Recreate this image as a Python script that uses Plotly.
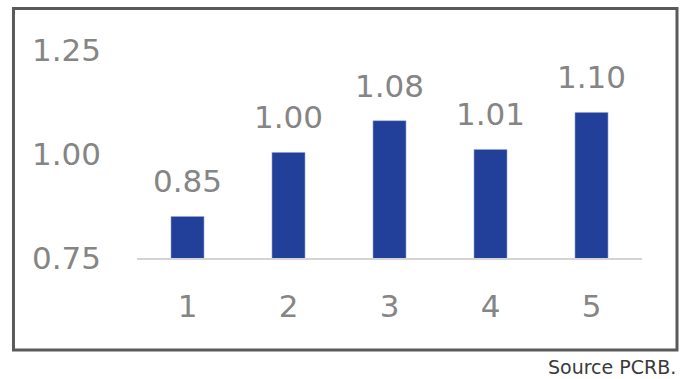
import plotly.graph_objects as go

categories = ["1", "2", "3", "4", "5"]
values = [0.85, 1.004, 1.08, 1.011, 1.10]
value_labels = ["0.85", "1.00", "1.08", "1.01", "1.10"]
y_ticks = [0.75, 1.00, 1.25]
y_tick_labels = ["0.75", "1.00", "1.25"]
source_text = "Source PCRB."

FONT = "DejaVu Sans"
GRAY = "#858585"
BLUE = "#22409A"

fig = go.Figure()
fig.add_trace(go.Bar(
    x=categories, y=values, marker_color=BLUE, width=0.33,
    hoverinfo="skip",
))

for i, (v, t) in enumerate(zip(values, value_labels)):
    fig.add_annotation(x=i, y=v, text=t, showarrow=False, xanchor="center",
                       yanchor="bottom", yshift=15,
                       font=dict(family=FONT, size=31, color=GRAY))

fig.add_annotation(xref="paper", yref="paper", x=1.0713, y=-0.476, text=source_text,
                   showarrow=False, xanchor="right", yanchor="middle",
                   font=dict(family=FONT, size=19, color="#3a3a3a"))

fig.add_shape(type="rect", xref="paper", yref="paper",
              x0=-0.2446, x1=1.0693, y0=-0.4017, y1=1.0895,
              line=dict(color="#5a5a5a", width=3), fillcolor="rgba(0,0,0,0)")

fig.update_layout(
    width=683, height=379,
    margin=dict(l=137, r=41, t=29, b=121),
    paper_bgcolor="white", plot_bgcolor="white",
    showlegend=False,
    font=dict(family=FONT, color=GRAY),
)
fig.update_xaxes(
    type="category", range=[-0.5, len(categories) - 0.5],
    showgrid=False, showline=True, linecolor="#d4d4d4", linewidth=2,
    layer="below traces", ticks="", ticklabelstandoff=20,
    tickfont=dict(family=FONT, size=31, color=GRAY), fixedrange=True,
)
fig.update_yaxes(
    range=[0.75, 1.30], showgrid=False, zeroline=False, showline=False,
    tickvals=y_ticks, ticktext=y_tick_labels, ticks="", ticklabelstandoff=35,
    tickfont=dict(family=FONT, size=31, color=GRAY), fixedrange=True,
)

fig.write_html("out.html")
